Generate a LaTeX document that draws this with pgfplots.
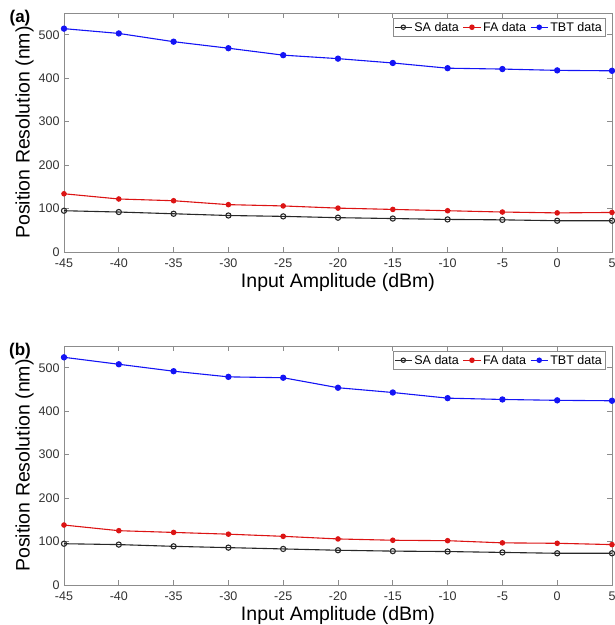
\documentclass[border=0pt]{standalone}
\usepackage{fontspec}
\setmainfont{Liberation Sans}
\usepackage{pgfplots}
\pgfplotsset{compat=1.18}

\definecolor{axgray}{RGB}{140,140,140}
\definecolor{ticktxt}{RGB}{50,50,50}
\definecolor{sacol}{RGB}{40,40,40}
\definecolor{facol}{RGB}{220,20,20}
\definecolor{tbtcol}{RGB}{20,20,245}

\pgfplotsset{
  panel/.style={
    scale only axis,
    width=548pt, height=239pt,
    xmin=-45, xmax=5, ymin=0, ymax=550,
    xtick={-45,-40,...,5},
    ytick={0,100,...,500},
    tick align=inside,
    major tick length=5pt,
    axis line style={axgray, line width=0.8pt},
    every tick/.style={axgray, line width=0.8pt},
    tick label style={font=\fontsize{12.5}{14}\selectfont, text=ticktxt},
    xticklabel style={yshift=-3pt},
    yticklabel style={xshift=-1pt},
    /pgf/number format/assume math mode=true,
    xlabel={Input Amplitude (dBm)},
    ylabel={Position Resolution (nm)},
    label style={font=\fontsize{19.5}{22}\selectfont},
    xlabel style={yshift=1pt},
    ylabel style={yshift=-2pt},
    legend columns=3,
    legend style={at={(0.988,0.978)}, anchor=north east, draw=axgray,
      font=\fontsize{12.5}{14}\selectfont, inner sep=1.5pt,
      /tikz/every even column/.append style={column sep=2pt}},
    legend image post style={mark size=2.2pt},
    sa/.style={sacol, line width=1.1pt, mark=o, mark size=2.6pt, mark options={line width=1.1pt}},
    fa/.style={facol, line width=1.1pt, mark=*, mark size=2.2pt},
    tbt/.style={tbtcol, line width=1.1pt, mark=*, mark size=2.6pt},
  }
}

\begin{document}
\begin{tikzpicture}
\path[use as bounding box] (0pt,0pt) rectangle (615pt,-625pt);

\begin{axis}[panel, at={(64pt,-252pt)}, anchor=south west]
\addplot[sa] coordinates {
  (-45,95) (-40,92) (-35,88) (-30,84) (-25,82) (-20,79)
  (-15,77) (-10,75) (-5,74) (0,72) (5,72)
};
\addlegendentry{SA data}
\addplot[fa] coordinates {
  (-45,134) (-40,122) (-35,118) (-30,109) (-25,106) (-20,101)
  (-15,98) (-10,95) (-5,92) (0,90) (5,91)
};
\addlegendentry{FA data}
\addplot[tbt] coordinates {
  (-45,514) (-40,503) (-35,484) (-30,469) (-25,453) (-20,445)
  (-15,435) (-10,423) (-5,421) (0,418) (5,417)
};
\addlegendentry{TBT data}
\end{axis}
\node[font=\bfseries\fontsize{17}{20}\selectfont] at (20pt,-18pt) {(a)};

\begin{axis}[panel, at={(64pt,-585pt)}, anchor=south west]
\addplot[sa] coordinates {
  (-45,95) (-40,93) (-35,89) (-30,86) (-25,83) (-20,80)
  (-15,78) (-10,77) (-5,75) (0,73) (5,73)
};
\addlegendentry{SA data}
\addplot[fa] coordinates {
  (-45,138) (-40,125) (-35,121) (-30,117) (-25,112) (-20,106)
  (-15,103) (-10,102) (-5,97) (0,96) (5,93)
};
\addlegendentry{FA data}
\addplot[tbt] coordinates {
  (-45,524) (-40,508) (-35,492) (-30,479) (-25,477) (-20,454)
  (-15,443) (-10,430) (-5,427) (0,425) (5,424)
};
\addlegendentry{TBT data}
\end{axis}
\node[font=\bfseries\fontsize{17}{20}\selectfont] at (20pt,-351pt) {(b)};
\end{tikzpicture}
\end{document}
